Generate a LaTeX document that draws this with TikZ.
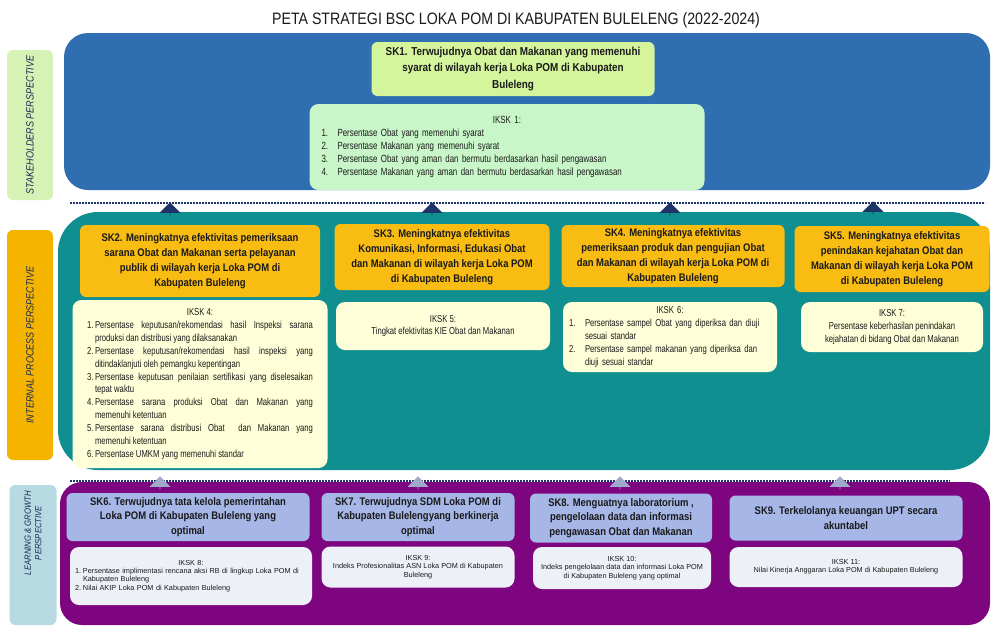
\documentclass[tikz,border=0pt]{standalone}
\usepackage{fontspec}
\setmainfont[FakeStretch=0.86]{Liberation Sans}
\newfontfamily\narrowfont[FakeStretch=0.76]{Liberation Sans}
\newfontfamily\plainfont{Liberation Sans}
\usetikzlibrary{shapes.arrows}

\definecolor{bandblue}{HTML}{2F6FB1}
\definecolor{bandteal}{HTML}{0F8F8F}
\definecolor{bandpurple}{HTML}{7D0680}
\definecolor{skgreen}{HTML}{D5F59C}
\definecolor{ikgreen}{HTML}{C9F6C9}
\definecolor{labgreen}{HTML}{D6F2B4}
\definecolor{skorange}{HTML}{F9BC12}
\definecolor{laborange}{HTML}{F5B400}
\definecolor{ikyellow}{HTML}{FEFED8}
\definecolor{sklav}{HTML}{A6B6E6}
\definecolor{ikwhite}{HTML}{EDF0F7}
\definecolor{labblue}{HTML}{B6D9E2}
\definecolor{navy}{HTML}{1E3468}
\definecolor{greyarrow}{HTML}{9FA9CC}
\definecolor{inktext}{HTML}{1A1A1A}

% numbered item with hanging indent
\newcommand{\ikno}[2][16pt]{\par\noindent\hangindent=#1\hangafter=1\makebox[#1][l]{#2}}

\begin{document}
\begin{tikzpicture}[x=1pt,y=-1pt,
    skbox/.style={rounded corners=6pt, align=center, inner sep=2pt, text=inktext,
      font=\fontsize{11}{14.8}\selectfont\bfseries},
    ikbox/.style={rounded corners=9pt, inner sep=0pt, text=inktext,
      font=\narrowfont\fontsize{10.1}{12.9}\selectfont},
    iklearn/.style={ikbox, fill=ikwhite, align=center,
      font=\plainfont\fontsize{7.3}{8.3}\selectfont},
    sidelabel/.style={rotate=90, rounded corners=6pt, align=center, inner sep=0pt,
      text=navy!80!black, font=\fontsize{10.5}{12}\selectfont\itshape},
    uparrow/.style={single arrow, shape border rotate=90, inner sep=0pt,
      minimum height=13pt, minimum width=21pt, single arrow head extend=5pt,
      single arrow head indent=0pt},
    dotline/.style={navy, line width=2.6pt, dash pattern=on 1.6pt off 1.4pt}]

    \useasboundingbox (0,0) rectangle (992,627);
    \fill[white] (0,0) rectangle (992,627);

    % Title
    \node[text=inktext] (title) at (516,20) {\fontsize{16.5}{18}\selectfont PETA STRATEGI BSC LOKA POM DI KABUPATEN BULELENG (2022-2024)};

    % Perspective bands
    \fill[bandblue, rounded corners=24pt] (64,33) rectangle (990,190);
    \fill[bandteal, rounded corners=40pt] (58,212) rectangle (990,470);
    \fill[bandpurple, rounded corners=22pt] (60,482) rectangle (990,625);

    % Side labels
    \node[sidelabel, fill=labgreen, minimum width=150pt, minimum height=46pt] (lstake) at (30,125) {STAKEHOLDERS PERSPECTIVE};
    \node[sidelabel, fill=laborange, minimum width=230pt, minimum height=46pt] (linternal) at (30,345) {INTERNAL PROCESS PERSPECTIVE};
    \node[sidelabel, fill=labblue, minimum width=140pt, minimum height=47pt] (llearning) at (33,555) {};
    \node[sidelabel, font=\fontsize{9}{10.5}\selectfont\itshape] (llearntext) at (33,533) {LEARNING \& GROWTH\\PERSPECTIVE};

    % Separators
    \draw[dotline] (70,203) -- (985,203);
    \draw[dotline] (70,481) -- (950,481);

    % Stakeholders perspective
    \node[skbox, fill=skgreen, minimum width=283pt, minimum height=54pt,
      font=\fontsize{11.5}{16.5}\selectfont\bfseries] (sk1) at (513,69)
      {SK1. Terwujudnya Obat dan Makanan yang memenuhi\\syarat di wilayah kerja Loka POM di Kabupaten\\Buleleng};
    \node[ikbox, fill=ikgreen, minimum width=395pt, minimum height=86pt, text width=371pt, align=left,
      font=\narrowfont\fontsize{10.4}{13}\selectfont] (iksk1) at (507,147)
      {{\centering IKSK 1:\par}
       \ikno{1.}Persentase Obat yang memenuhi syarat
       \ikno{2.}Persentase Makanan yang memenuhi syarat
       \ikno{3.}Persentase Obat yang aman dan bermutu berdasarkan hasil pengawasan
       \ikno{4.}Persentase Makanan yang aman dan bermutu berdasarkan hasil pengawasan\par};

    % Internal process perspective
    \node[skbox, fill=skorange, minimum width=240pt, minimum height=72pt] (sk2) at (200,261)
      {SK2. Meningkatnya efektivitas pemeriksaan\\sarana Obat dan Makanan serta pelayanan\\publik di wilayah kerja Loka POM di\\Kabupaten Buleleng};
    \node[skbox, fill=skorange, minimum width=215pt, minimum height=66pt] (sk3) at (442,257)
      {SK3. Meningkatnya efektivitas\\Komunikasi, Informasi, Edukasi Obat\\dan Makanan di wilayah kerja Loka POM\\di Kabupaten Buleleng};
    \node[skbox, fill=skorange, minimum width=223pt, minimum height=62pt] (sk4) at (673,256)
      {SK4. Meningkatnya efektivitas\\pemeriksaan produk dan pengujian Obat\\dan Makanan di wilayah kerja Loka POM di\\Kabupaten Buleleng};
    \node[skbox, fill=skorange, minimum width=195pt, minimum height=66pt] (sk5) at (892,259)
      {SK5. Meningkatnya efektivitas\\penindakan kejahatan Obat dan\\Makanan di wilayah kerja Loka POM\\di Kabupaten Buleleng};

    \node[ikbox, fill=ikyellow, minimum width=255pt, minimum height=168pt, text width=226pt, align=justify] (iksk4) at (200,384)
      {{\centering IKSK 4:\par}
       \ikno[8pt]{1.}Persentase keputusan/rekomendasi hasil Inspeksi sarana\linebreak produksi dan distribusi yang dilaksanakan
       \ikno[8pt]{2.}Persentase keputusan/rekomendasi hasil inspeksi yang\linebreak ditindaklanjuti oleh pemangku kepentingan
       \ikno[8pt]{3.}Persentase keputusan penilaian sertifikasi yang diselesaikan\linebreak tepat waktu
       \ikno[8pt]{4.}Persentase sarana produksi Obat dan Makanan yang\linebreak memenuhi ketentuan
       \ikno[8pt]{5.}Persentase sarana distribusi Obat\ \ dan Makanan yang\linebreak memenuhi ketentuan
       \ikno[8pt]{6.}Persentase UMKM yang memenuhi standar\par};
    \node[ikbox, fill=ikyellow, minimum width=214pt, minimum height=48pt, align=center] (iksk5) at (443,326)
      {IKSK 5:\\Tingkat efektivitas KIE Obat dan Makanan};
    \node[ikbox, fill=ikyellow, minimum width=214pt, minimum height=70pt, text width=202pt, align=left] (iksk6) at (670,337)
      {{\centering IKSK 6:\par}
       \ikno[16pt]{1.}Persentase sampel Obat yang diperiksa dan diuji\newline sesuai standar
       \ikno[16pt]{2.}Persentase sampel makanan yang diperiksa dan\newline diuji sesuai standar\par};
    \node[ikbox, fill=ikyellow, minimum width=182pt, minimum height=50pt, align=center] (iksk7) at (892,327)
      {IKSK 7:\\Persentase keberhasilan penindakan\\kejahatan di bidang Obat dan Makanan};

    % Learning & growth perspective
    \node[skbox, fill=sklav, minimum width=243pt, minimum height=48pt] (sk6) at (188,517)
      {SK6. Terwujudnya tata kelola pemerintahan\\Loka POM di Kabupaten Buleleng yang\\optimal};
    \node[skbox, fill=sklav, minimum width=193pt, minimum height=48pt] (sk7) at (418,517)
      {SK7. Terwujudnya SDM Loka POM di\\Kabupaten Bulelengyang berkinerja\\optimal};
    \node[skbox, fill=sklav, minimum width=182pt, minimum height=49pt] (sk8) at (621,518)
      {SK8. Menguatnya laboratorium ,\\pengelolaan data dan informasi\\pengawasan Obat dan Makanan};
    \node[skbox, fill=sklav, minimum width=233pt, minimum height=45pt] (sk9) at (846,518)
      {SK9. Terkelolanya keuangan UPT secara\\akuntabel};

    \node[iklearn, minimum width=242pt, minimum height=58pt, text width=232pt, align=left] (iksk8) at (191,576)
      {{\centering IKSK 8:\par}
       \ikno[8pt]{1.}Persentase implimentasi rencana aksi RB di lingkup Loka POM di\newline Kabupaten Buleleng
       \ikno[8pt]{2.}Nilai AKIP Loka POM di Kabupaten Buleleng\par};
    \node[iklearn, minimum width=193pt, minimum height=41pt] (iksk9) at (418,567)
      {IKSK 9:\\Indeks Profesionalitas ASN Loka POM di Kabupaten\\Buleleng};
    \node[iklearn, minimum width=178pt, minimum height=42pt] (iksk10) at (622,568)
      {IKSK 10:\\Indeks pengelolaan data dan informasi Loka POM\\di Kabupaten Buleleng yang optimal};
    \node[iklearn, minimum width=233pt, minimum height=40pt] (iksk11) at (846,567)
      {IKSK 11:\\Nilai Kinerja Anggaran Loka POM di Kabupaten Buleleng};

    % Up arrows between perspectives
    \node[uparrow, fill=navy] (up2) at (170,209) {};
    \node[uparrow, fill=navy] (up3) at (432,209) {};
    \node[uparrow, fill=navy] (up4) at (670,209) {};
    \node[uparrow, fill=navy] (up5) at (873,208) {};
    \node[uparrow, fill=greyarrow] (up6) at (160,483) {};
    \node[uparrow, fill=greyarrow] (up7) at (418,483) {};
    \node[uparrow, fill=greyarrow] (up8) at (620,483) {};
    \node[uparrow, fill=greyarrow] (up9) at (840,483) {};
\end{tikzpicture}
\end{document}
